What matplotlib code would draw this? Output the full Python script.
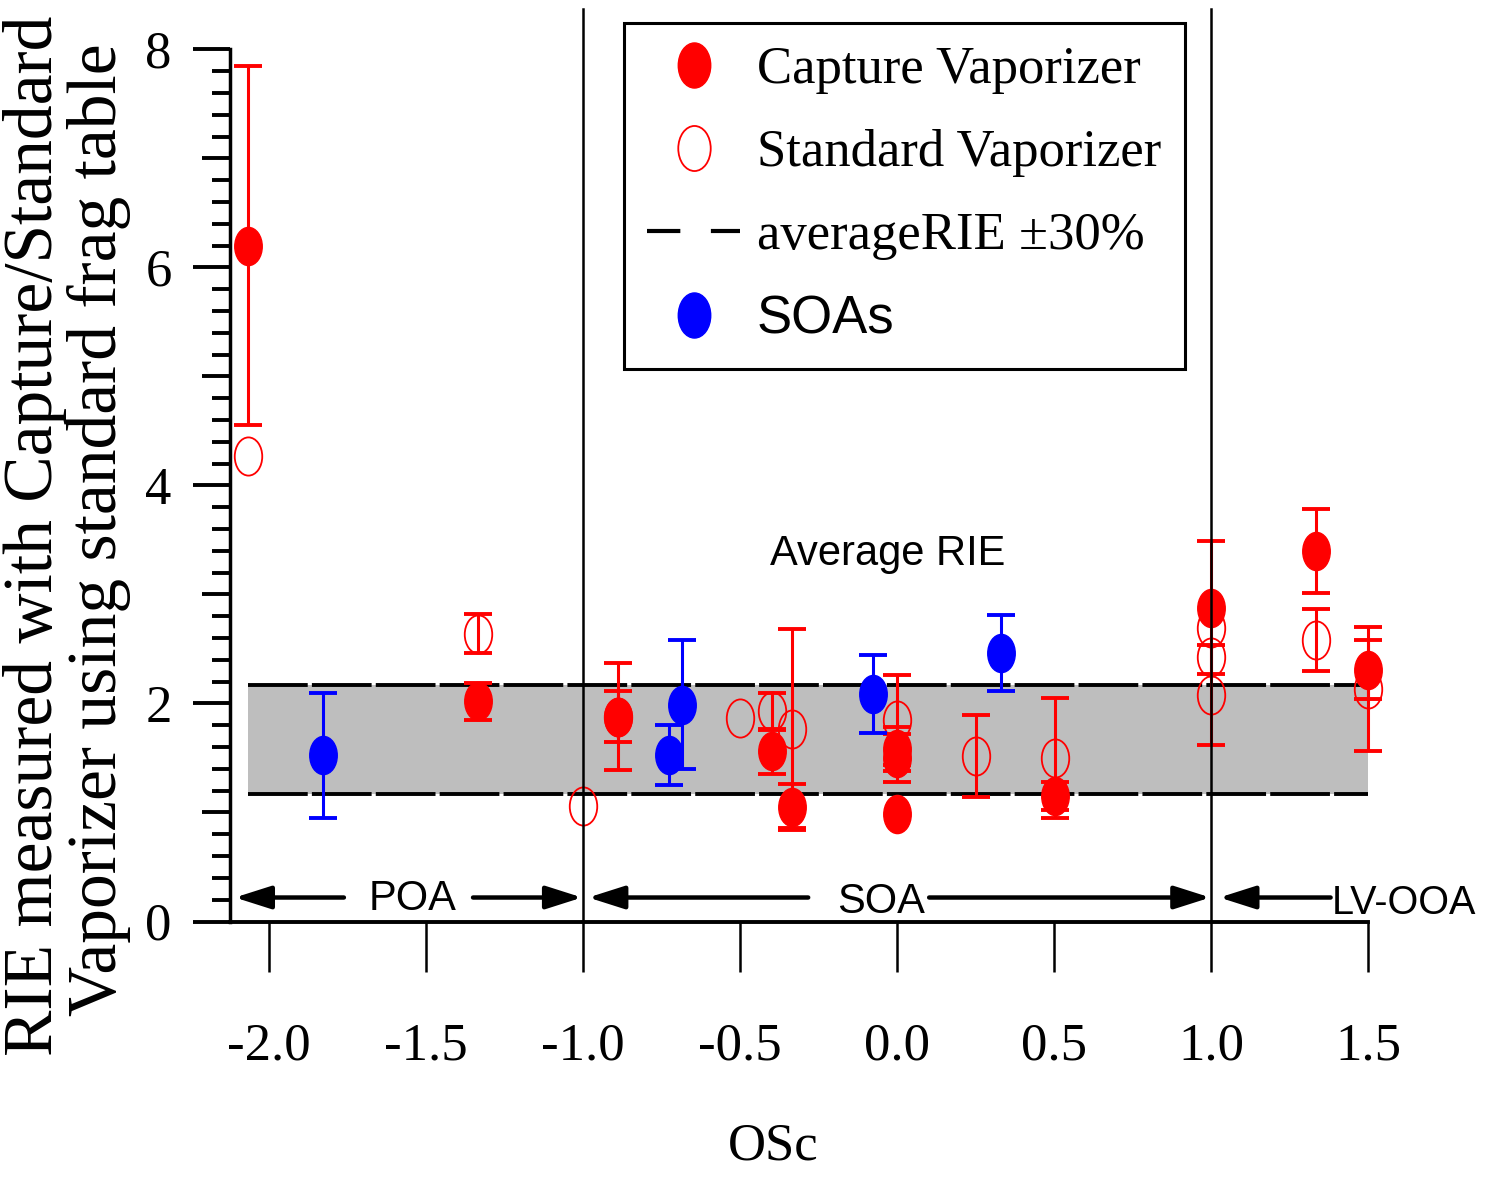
import numpy as np
import matplotlib
matplotlib.use("Agg")
import matplotlib.pyplot as plt
from matplotlib.path import Path
from matplotlib.lines import Line2D
from matplotlib.ticker import FixedLocator
from matplotlib.patches import ArrowStyle

# ---------------- data ----------------
capture_x = [-2.065, -1.332, -0.886, -0.397, -0.332, 0.0, 0.0, 0.0, 0.503, 1.0, 1.335, 1.5]
capture_y = [6.20, 2.02, 1.88, 1.56, 1.05, 1.58, 1.50, 0.99, 1.15, 2.88, 3.40, 2.31]
capture_err = [1.65, 0.17, 0.49, 0.21, 0.21, 0.20, 0.22, 0.0, 0.13, 0.61, 0.385, 0.27]

standard_x = [-2.065, -1.332, -1.0, -0.886, -0.498, -0.397, -0.332, 0.0, 0.253, 0.503, 1.0, 1.0, 1.0, 1.335, 1.5]
standard_y = [4.27, 2.64, 1.06, 1.88, 1.87, 1.93, 1.77, 1.85, 1.52, 1.50, 2.69, 2.43, 2.08, 2.585, 2.13]
standard_err = [0.0, 0.18, 0.0, 0.23, 0.0, 0.17, 0.91, 0.41, 0.375, 0.55, 0.0, 0.0, 0.46, 0.285, 0.57]

soa_x = [-1.825, -0.724, -0.684, -0.075, 0.332]
soa_y = [1.525, 1.525, 1.99, 2.085, 2.46]
soa_err = [0.575, 0.275, 0.59, 0.355, 0.35]

average_rie = 1.67
band_frac = 0.30

xticks = [-2.0, -1.5, -1.0, -0.5, 0.0, 0.5, 1.0, 1.5]
yticks = [0, 2, 4, 6, 8]
region_bounds = [-1.0, 1.0]
region_labels = ["POA", "SOA", "LV-OOA"]
legend_labels = ["Capture Vaporizer", "Standard Vaporizer", "averageRIE \u00b130%", "SOAs"]

# ---------------- style ----------------
SERIF = ['Liberation Serif', 'DejaVu Serif']
SANS = ['Liberation Sans', 'DejaVu Sans']
plt.rcParams['font.family'] = SERIF
plt.rcParams['axes.unicode_minus'] = False
plt.rcParams['lines.scale_dashes'] = False

RED = '#ff0000'
BLUE = '#0000ff'
MS = 27.5

W, H = 1486, 1178
fig = plt.figure(figsize=(W / 100, H / 100), dpi=100)
ax = fig.add_axes([230 / W, 1 - 921.5 / H, 1138 / W, 872.2 / H])
ax.set_xlim(-2.1226, 1.5)
ax.set_ylim(0, 8)

circ = Path.unit_circle()
ell = Path(circ.vertices * np.array([0.72, 1.0]), circ.codes)

# band
lo = average_rie * (1 - band_frac)
hi = average_rie * (1 + band_frac)
all_x = capture_x + standard_x + soa_x
x0, x1 = min(all_x), max(all_x)
ax.fill_between([x0, x1], lo, hi, color='#bebebe', lw=0, zorder=0.5)
for yv in (lo, hi):
    ax.plot([x0, x1], [yv, yv], color='k', lw=2.8, dashes=(43, 3), zorder=1)


def series(xs, ys, errs, face, edge, mew, z):
    xs = np.asarray(xs); ys = np.asarray(ys); errs = np.asarray(errs)
    m = errs > 0
    c = ax.errorbar(xs[m], ys[m], yerr=errs[m], fmt='none', ecolor=edge,
                    elinewidth=2.2, capsize=10, capthick=2.8, zorder=z)
    for a in list(c.lines[1]) + list(c.lines[2]):
        a.set_clip_on(False)
    ax.plot(xs, ys, ls='none', marker=ell, ms=MS, mfc=face, mec=edge, mew=mew,
            zorder=z + 0.1, clip_on=False)


series(standard_x, standard_y, standard_err, 'none', RED, 1.3, 2)
series(capture_x, capture_y, capture_err, RED, RED, 1.0, 3)
series(soa_x, soa_y, soa_err, BLUE, BLUE, 1.0, 4)

# region boundaries
for b in region_bounds:
    ax.plot([b, b], [0, 8.37], color='k', lw=1.8, clip_on=False, zorder=6)

# arrows
arrow_y = 0.22
astyle = ArrowStyle('-|>', head_length=1.1, head_width=0.35)


def arrow(xt, xh):
    ax.annotate('', xy=(xh, arrow_y), xytext=(xt, arrow_y),
                arrowprops=dict(arrowstyle=astyle, mutation_scale=20, lw=3.2, color='k',
                                shrinkA=0, shrinkB=0),
                annotation_clip=False, zorder=6)


arrow(-1.76, -2.107)
arrow(-1.349, -1.002)
arrow(-0.282, -0.982)
arrow(0.103, 0.998)
arrow(1.381, 1.027)

ax.text(-1.54, 0.105, region_labels[0], ha='center', va='baseline', fontsize=30, family=SANS)
ax.text(-0.051, 0.08, region_labels[1], ha='center', va='baseline', fontsize=30, family=SANS)
ax.text(1.615, 0.065, region_labels[2], ha='center', va='baseline', fontsize=28.5, family=SANS,
        clip_on=False)
ax.text(-0.029, 3.27, "Average RIE", ha='center', va='baseline', fontsize=30, family=SANS)

# axes styling
for s in ('top', 'right'):
    ax.spines[s].set_visible(False)
ax.spines['left'].set_linewidth(2.5)
ax.spines['bottom'].set_linewidth(2.8)

ax.set_xticks(xticks)
ax.set_xticklabels([f"{v:.1f}" for v in xticks])
ax.tick_params(axis='x', which='major', direction='out', length=36, width=1.8, pad=37, labelsize=38)

ax.set_yticks(yticks)
ax.set_yticklabels([str(v) for v in yticks])
minor_pos = [round(i * 0.2, 1) for i in range(41) if i % 10 != 0]
ax.yaxis.set_minor_locator(FixedLocator(minor_pos))
ax.tick_params(axis='y', which='major', direction='out', length=27, width=2.8, pad=15, labelsize=38)
ax.tick_params(axis='y', which='minor', direction='out', length=13, width=2.8)
mticks = ax.yaxis.get_minor_ticks(len(minor_pos))
for t, v in zip(mticks, minor_pos):
    if abs(v - round(v)) < 1e-6:
        t.tick1line.set_markersize(20)

# labels
fig.text(52 / W, 1 - 536 / H, "RIE measured with Capture/Standard", rotation=90,
         rotation_mode='anchor', ha='center', va='baseline', fontsize=50)
fig.text(116 / W, 1 - 530 / H, "Vaporizer using standard frag table", rotation=90,
         rotation_mode='anchor', ha='center', va='baseline', fontsize=50)
fig.text(773 / W, 1 - 1146 / H, "OSc", ha='center', va='center', fontsize=38)

# legend
handles = [
    Line2D([], [], ls='none', marker=ell, ms=MS, mfc=RED, mec=RED),
    Line2D([], [], ls='none', marker=ell, ms=MS, mfc='none', mec=RED, mew=1.3),
    Line2D([], [], color='k', lw=3, dashes=(24, 22)),
    Line2D([], [], ls='none', marker=ell, ms=MS, mfc=BLUE, mec=BLUE),
]
leg = ax.legend(handles, legend_labels, loc='upper left',
                bbox_to_anchor=(623.7 / W, 1 - 22.7 / H), bbox_transform=fig.transFigure,
                fontsize=38, frameon=True, fancybox=False, edgecolor='k', framealpha=1,
                borderpad=0.45, labelspacing=0.66, handlelength=1.75, handletextpad=0.32,
                markerscale=1.18, borderaxespad=0)
leg.get_frame().set_linewidth(2.2)
leg.get_texts()[3].set_fontfamily(SANS)
leg.set_zorder(10)

fig.savefig("out.png", dpi=100)
